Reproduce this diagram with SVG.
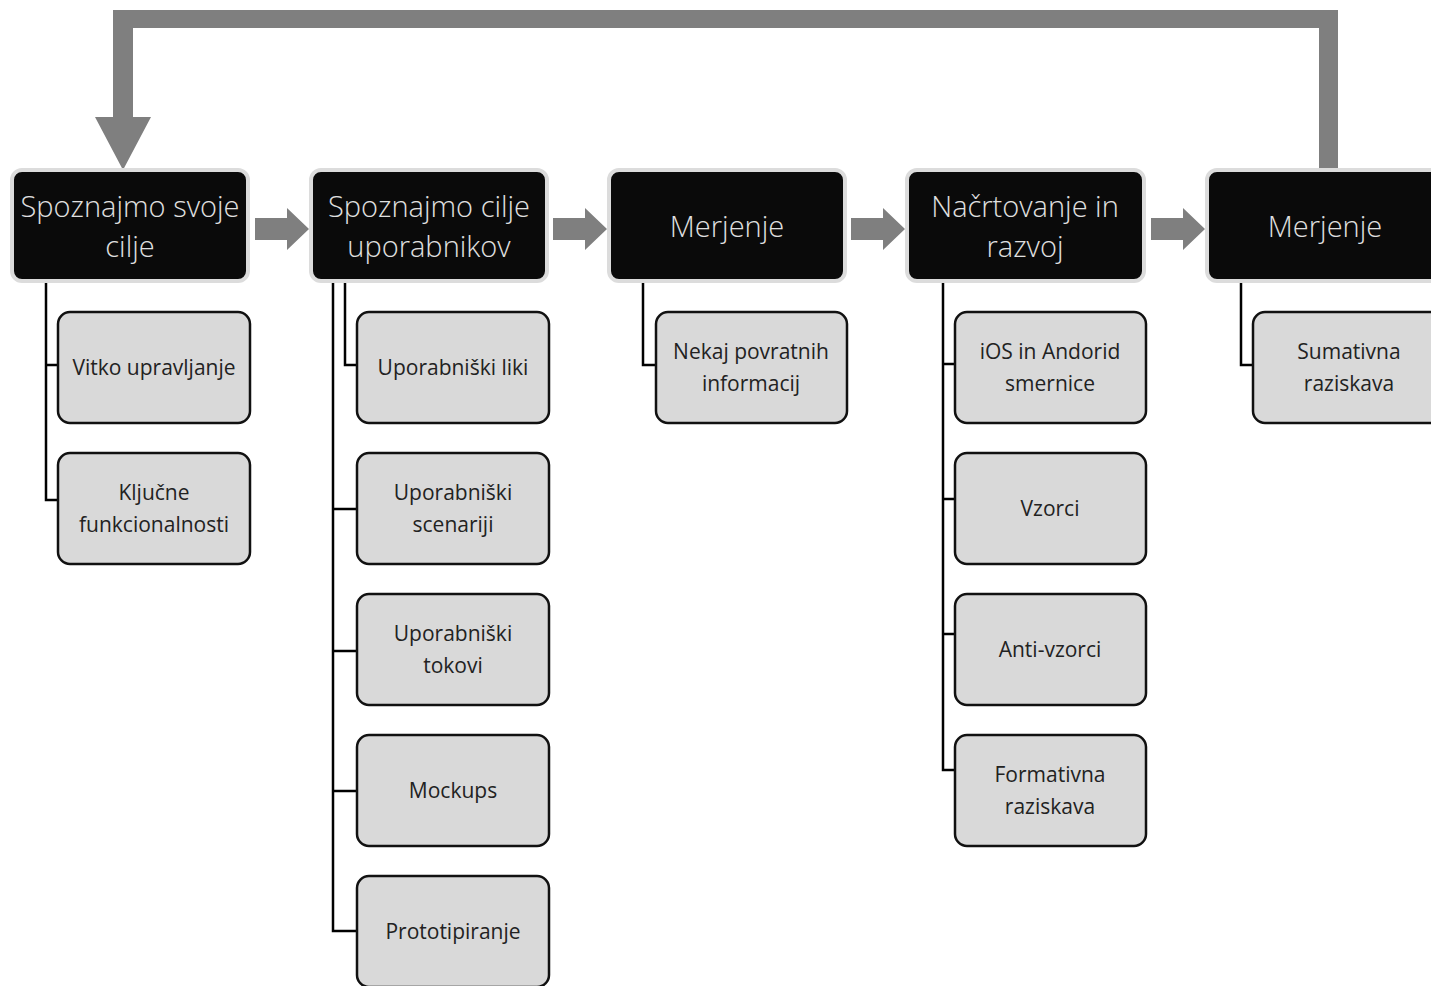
<svg xmlns="http://www.w3.org/2000/svg" width="1431" height="986" viewBox="0 0 1431 986">
<style>
.hdr rect{fill:#0a0a0a;stroke:#dcdcdc;stroke-width:4}
.hdr text{fill:#e0e0e0;font-family:"Open Sans","Noto Sans",sans-serif;font-weight:300;font-size:29px;text-anchor:middle}
.chl rect{fill:#d9d9d9;stroke:#111;stroke-width:2.5}
.chl text{fill:#222;font-family:"Open Sans","Noto Sans",sans-serif;font-weight:400;font-size:21px;text-anchor:middle}
.conn path{fill:none;stroke:#000;stroke-width:2.5}
.flow{fill:#7f7f7f}
</style>
<rect width="1431" height="986" fill="#fff"/>
<g id="connectors">
<polygon class="flow" points="1319,168 1319,28 133,28 133,117 151,117 123,170 95,117 113,117 113,10 1338,10 1338,168"/>
<polygon class="flow" points="255,218 287,218 287,208 309,229 287,250 287,240 255,240"/>
<polygon class="flow" points="553,218 585,218 585,208 607,229 585,250 585,240 553,240"/>
<polygon class="flow" points="851,218 883,218 883,208 905,229 883,250 883,240 851,240"/>
<polygon class="flow" points="1151,218 1183,218 1183,208 1205,229 1183,250 1183,240 1151,240"/>
<g class="conn">
<path d="M46,283 V500 H58 M46,365 H58"/>
<path d="M345,283 V365 H357 M333,283 V931 H357 M333,509 H357 M333,651 H357 M333,791 H357"/>
<path d="M643,283 V365 H655"/>
<path d="M943,283 V770 H955 M943,364 H955 M943,499 H955 M943,634 H955"/>
<path d="M1241,283 V365 H1253"/>
</g>
</g>
<g id="h1" class="hdr"><rect x="12" y="170" width="236" height="111" rx="10"/><text x="130" y="217">Spoznajmo svoje</text><text x="130" y="257">cilje</text></g>
<g id="h2" class="hdr"><rect x="311" y="170" width="236" height="111" rx="10"/><text x="429" y="217">Spoznajmo cilje</text><text x="429" y="257">uporabnikov</text></g>
<g id="h3" class="hdr"><rect x="609" y="170" width="236" height="111" rx="10"/><text x="727" y="237">Merjenje</text></g>
<g id="h4" class="hdr"><rect x="907" y="170" width="237" height="111" rx="10"/><text x="1025" y="217">Načrtovanje in</text><text x="1025" y="257">razvoj</text></g>
<g id="h5" class="hdr"><rect x="1207" y="170" width="240" height="111" rx="10"/><text x="1325" y="237">Merjenje</text></g>

<g id="c1a" class="chl"><rect x="58" y="312" width="192" height="111" rx="12"/><text x="154" y="375">Vitko upravljanje</text></g>
<g id="c1b" class="chl"><rect x="58" y="453" width="192" height="111" rx="12"/><text x="154" y="500">Ključne</text><text x="154" y="532">funkcionalnosti</text></g>

<g id="c2a" class="chl"><rect x="357" y="312" width="192" height="111" rx="12"/><text x="453" y="375">Uporabniški liki</text></g>
<g id="c2b" class="chl"><rect x="357" y="453" width="192" height="111" rx="12"/><text x="453" y="500">Uporabniški</text><text x="453" y="532">scenariji</text></g>
<g id="c2c" class="chl"><rect x="357" y="594" width="192" height="111" rx="12"/><text x="453" y="641">Uporabniški</text><text x="453" y="673">tokovi</text></g>
<g id="c2d" class="chl"><rect x="357" y="735" width="192" height="111" rx="12"/><text x="453" y="798">Mockups</text></g>
<g id="c2e" class="chl"><rect x="357" y="876" width="192" height="111" rx="12"/><text x="453" y="939">Prototipiranje</text></g>

<g id="c3a" class="chl"><rect x="656" y="312" width="191" height="111" rx="12"/><text x="751" y="359">Nekaj povratnih</text><text x="751" y="391">informacij</text></g>

<g id="c4a" class="chl"><rect x="955" y="312" width="191" height="111" rx="12"/><text x="1050" y="359">iOS in Andorid</text><text x="1050" y="391">smernice</text></g>
<g id="c4b" class="chl"><rect x="955" y="453" width="191" height="111" rx="12"/><text x="1050" y="516">Vzorci</text></g>
<g id="c4c" class="chl"><rect x="955" y="594" width="191" height="111" rx="12"/><text x="1050" y="657">Anti-vzorci</text></g>
<g id="c4d" class="chl"><rect x="955" y="735" width="191" height="111" rx="12"/><text x="1050" y="782">Formativna</text><text x="1050" y="814">raziskava</text></g>

<g id="c5a" class="chl"><rect x="1253" y="312" width="192" height="111" rx="12"/><text x="1349" y="359">Sumativna</text><text x="1349" y="391">raziskava</text></g>
</svg>
